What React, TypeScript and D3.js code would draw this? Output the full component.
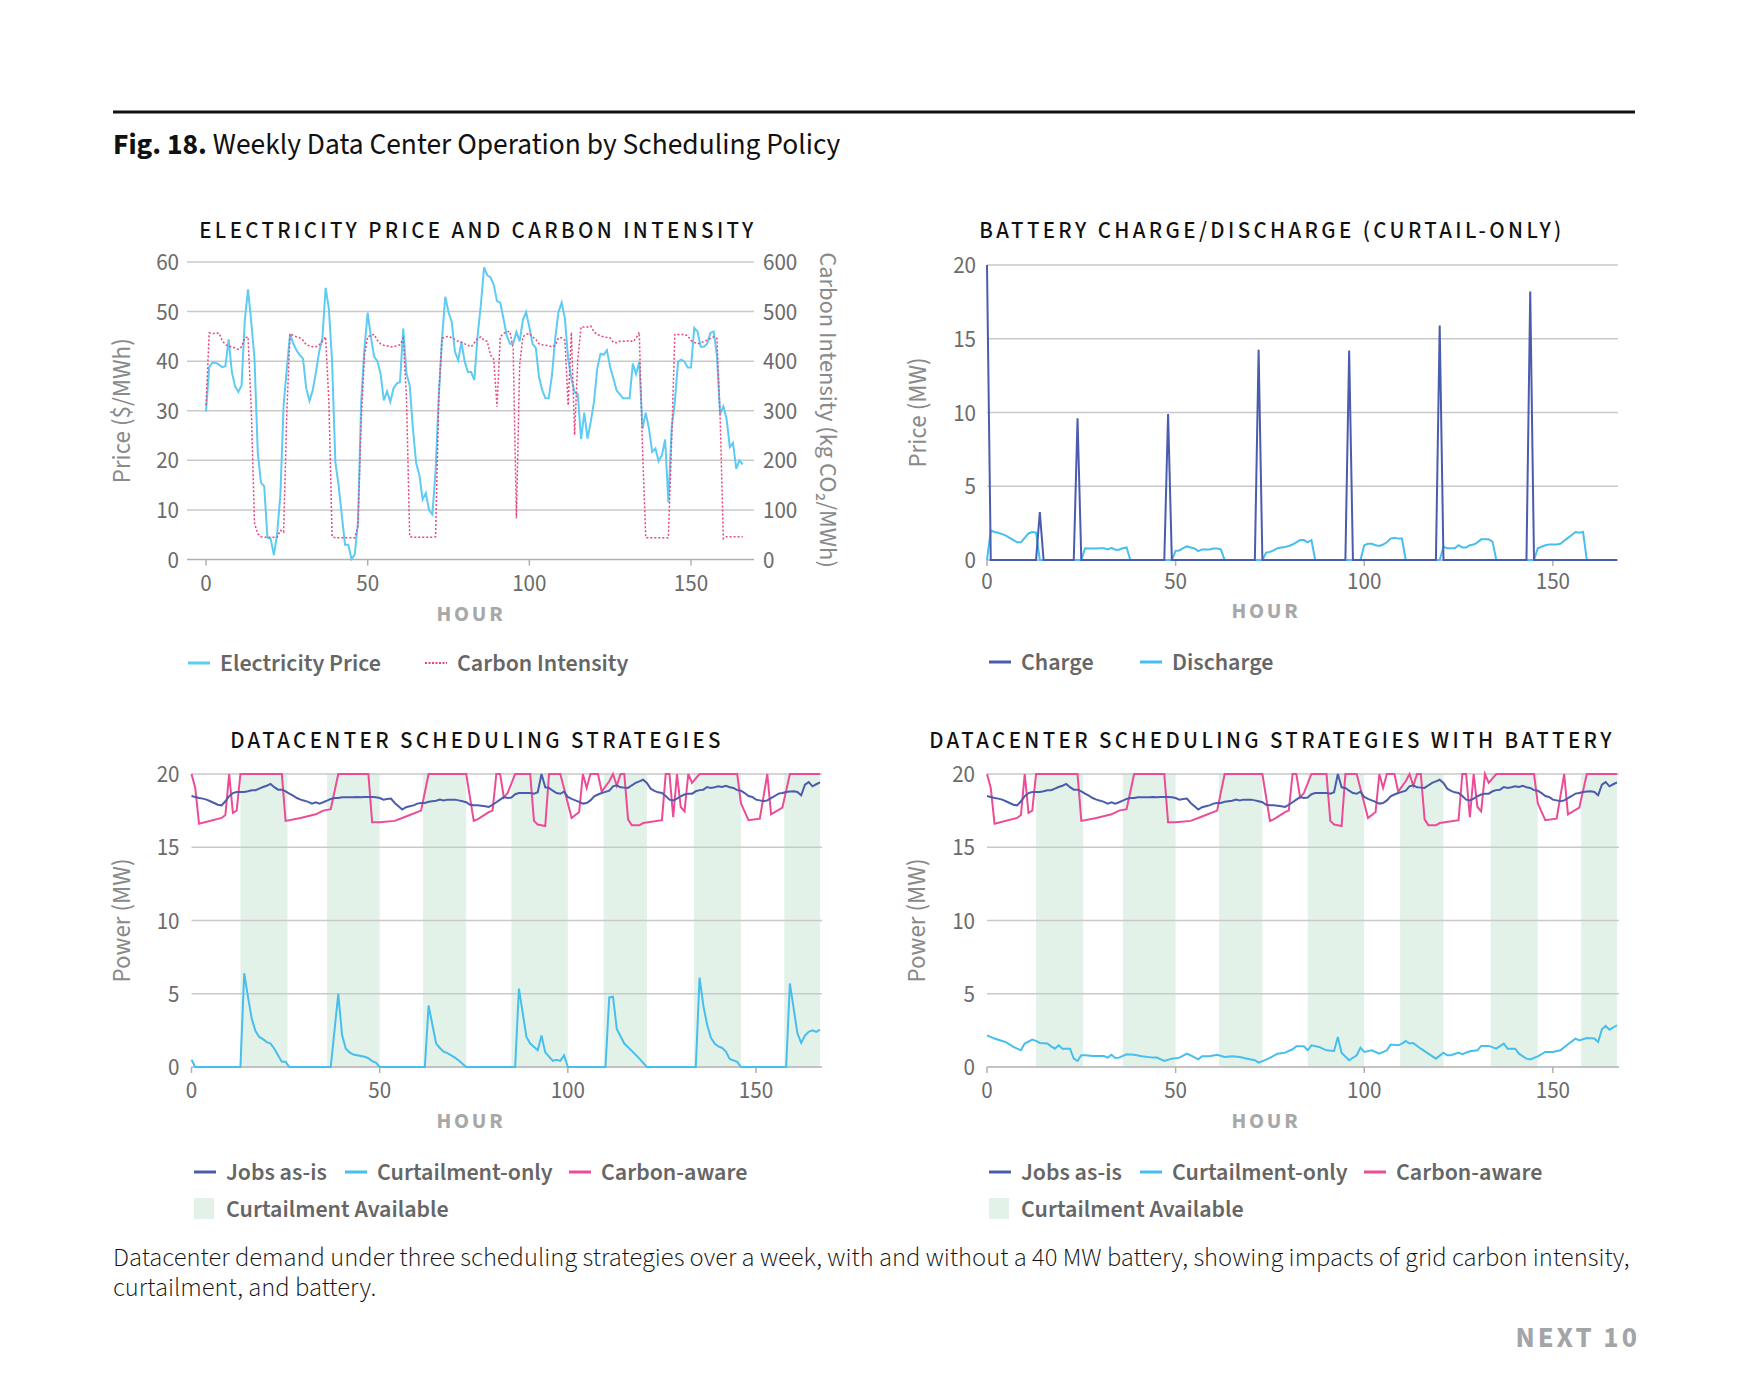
import * as d3 from "d3";

// ---- data ----
// hourly electricity price ($/MWh), hours 0..166
const price = [
  29.8, 38.8, 39.7, 39.7, 39.3, 38.8, 39.0, 44.4, 37.8, 34.9, 33.8, 35.1, 48.3, 54.5, 47.9, 40.5, 21.7, 15.5, 14.8, 4.4,
  4.2, 0.9, 5.2, 13.0, 31.1, 38.5, 45.5, 43.5, 42.2, 41.2, 40.5, 34.5, 32.0, 34.1, 37.8, 41.9, 44.6, 54.8, 50.6, 39.9,
  19.7, 15.0, 8.9, 3.0, 3.0, 0.1, 1.0, 7.6, 31.8, 42.5, 49.8, 44.9, 40.9, 40.0, 37.5, 32.1, 33.9, 31.8, 34.5, 35.5,
  35.8, 46.6, 37.5, 35.1, 26.4, 19.4, 17.0, 12.1, 13.4, 9.9, 9.1, 17.7, 33.1, 44.6, 53.0, 49.9, 47.9, 41.9, 40.2, 43.9,
  39.9, 37.8, 37.8, 36.2, 45.2, 51.3, 58.9, 57.3, 56.9, 55.4, 52.1, 51.8, 48.6, 45.2, 43.5, 43.5, 45.9, 44.0, 48.3, 49.9,
  46.9, 43.5, 42.7, 36.8, 34.1, 32.5, 32.5, 37.2, 44.6, 49.9, 51.8, 48.6, 40.5, 36.5, 33.7, 33.3, 24.3, 29.6, 24.4, 27.8,
  31.8, 38.5, 41.5, 41.3, 42.2, 38.8, 36.5, 34.1, 33.3, 32.5, 32.5, 32.5, 39.5, 37.4, 39.9, 26.4, 29.6, 26.4, 21.7, 22.4,
  19.8, 21.0, 24.2, 11.5, 26.4, 31.8, 39.9, 40.3, 39.9, 38.7, 38.7, 46.7, 46.0, 42.9, 42.9, 43.5, 45.7, 46.0, 41.2, 29.3,
  30.9, 28.4, 22.7, 23.5, 18.3, 20.0, 19.2,
];

// hourly grid carbon intensity (kg CO2/MWh), hours 0..166
const carbon = [
  311, 457, 456, 456, 457, 442, 433, 431, 428, 427, 424, 429, 447, 449, 304, 73, 52, 46, 45, 45,
  45, 45, 45, 59, 55, 298, 455, 452, 449, 447, 442, 433, 431, 429, 429, 433, 440, 449, 318, 46,
  44, 44, 44, 44, 44, 44, 44, 66, 278, 412, 449, 452, 454, 442, 435, 432, 431, 429, 429, 431,
  433, 446, 325, 46, 45, 45, 45, 45, 45, 45, 45, 46, 330, 446, 449, 450, 447, 444, 440, 438,
  435, 432, 429, 437, 446, 449, 442, 440, 412, 404, 308, 449, 456, 459, 460, 425, 83, 392, 449, 454,
  456, 449, 444, 435, 433, 432, 431, 429, 432, 447, 447, 442, 311, 458, 251, 405, 469, 469, 469, 471,
  459, 454, 451, 449, 448, 447, 438, 437, 440, 440, 440, 442, 439, 446, 458, 224, 44, 44, 44, 44,
  44, 44, 44, 44, 237, 454, 454, 454, 454, 451, 442, 438, 435, 437, 440, 442, 446, 449, 446, 291,
  42, 46, 46, 46, 46, 46, 46,
];

// battery charge: zero except single-hour spikes
const weekHours = 168;
const chargeHours = [0, 14, 24, 48, 72, 96, 120, 144];
const chargePeaks = [20, 3.25, 9.6, 9.9, 14.25, 14.2, 15.9, 18.2];

// battery discharge [hour, MW]
const discharge: [number, number][] = [
  [0, 0], [1, 2.0], [2, 1.9], [3, 1.85], [4, 1.75], [5, 1.65], [6, 1.5], [7, 1.35], [8, 1.2], [9, 1.2], [10, 1.5], [11, 1.8], [12, 1.9], [13, 1.85], [14, 0],
  [25, 0], [26, 0.8], [27, 0.78], [28, 0.78], [29, 0.78], [30, 0.8], [31, 0.8], [32, 0.72], [33, 0.82], [34, 0.7], [35, 0.7], [36, 0.8], [37, 0.85], [38, 0],
  [49, 0], [50, 0.62], [51, 0.65], [52, 0.8], [53, 0.92], [54, 0.85], [55, 0.78], [56, 0.6], [57, 0.72], [58, 0.72], [59, 0.72], [60, 0.78], [61, 0.78], [62, 0.72], [63, 0],
  [73, 0], [74, 0.5], [75, 0.55], [76, 0.65], [77, 0.8], [78, 0.85], [79, 0.88], [80, 0.95], [81, 1.05], [82, 1.2], [83, 1.35], [84, 1.35], [85, 1.2], [86, 1.35], [87, 0],
  [99, 0], [100, 1.0], [101, 1.1], [102, 1.1], [103, 1.0], [104, 0.95], [105, 1.05], [106, 1.2], [107, 1.45], [108, 1.5], [109, 1.45], [110, 1.45], [111, 0],
  [120, 0], [121, 0.9], [122, 0.8], [123, 0.8], [124, 0.8], [125, 1.0], [126, 0.85], [127, 0.85], [128, 1.0], [129, 1.05], [130, 1.2], [131, 1.4], [132, 1.4], [133, 1.4], [134, 1.25], [135, 0],
  [145, 0], [146, 0.8], [147, 0.9], [148, 1.0], [149, 1.05], [150, 1.05], [151, 1.05], [152, 1.1], [153, 1.3], [154, 1.5], [155, 1.7], [156, 1.9], [157, 1.85], [158, 1.9], [159, 0], [167, 0],
];

// datacenter power, jobs as-is (MW), hours 0..167
const jobsAsIs = [
  18.5, 18.43, 18.36, 18.32, 18.25, 18.14, 18.02, 17.9, 17.86, 18.14, 18.48, 18.7, 18.77, 18.77, 18.77, 18.82, 18.89, 18.89, 19.0, 19.11,
  19.2, 19.32, 19.1, 18.93, 18.93, 18.82, 18.66, 18.52, 18.36, 18.25, 18.18, 18.1, 17.98, 18.07, 17.98, 18.07, 18.18, 18.3, 18.36, 18.36,
  18.41, 18.41, 18.41, 18.41, 18.43, 18.41, 18.43, 18.43, 18.43, 18.41, 18.36, 18.25, 18.3, 18.32, 18.02, 17.8, 17.57, 17.73, 17.8, 17.86,
  17.98, 18.02, 18.02, 18.1, 18.14, 18.18, 18.25, 18.2, 18.25, 18.25, 18.25, 18.2, 18.14, 18.07, 17.9, 17.86, 17.86, 17.84, 17.8, 17.75,
  17.9, 18.07, 18.25, 18.43, 18.36, 18.4, 18.62, 18.7, 18.7, 18.7, 18.7, 18.66, 18.75, 20.0, 19.09, 19.05, 18.86, 18.7, 18.65, 18.8,
  18.43, 18.3, 18.2, 18.1, 17.98, 18.02, 18.2, 18.48, 18.6, 18.7, 18.78, 18.86, 19.16, 19.23, 19.09, 19.07, 19.05, 19.23, 19.39, 19.5,
  19.61, 19.39, 19.0, 18.85, 18.75, 18.7, 18.5, 18.25, 18.2, 18.32, 18.48, 18.6, 18.66, 18.66, 18.82, 18.9, 18.93, 19.11, 19.05, 19.1,
  19.16, 19.11, 19.2, 19.1, 19.05, 18.9, 18.86, 18.7, 18.5, 18.43, 18.25, 18.2, 18.14, 18.2, 18.35, 18.5, 18.66, 18.7, 18.77, 18.8,
  18.82, 18.77, 18.55, 19.27, 19.45, 19.16, 19.3, 19.43,
];

// carbon-aware scheduling [hour, MW]
const carbonAware: [number, number][] = [
  [0, 20], [1, 19.05], [2, 16.6], [8, 17.0], [9, 17.2], [10, 20], [11, 17.35], [12, 17.5], [13, 20], [24, 20], [25, 16.8],
  [29, 17.0], [33, 17.25], [35, 17.5], [37, 17.6], [39, 20], [47, 20], [48, 16.7], [50, 16.7], [54, 16.8], [57, 17.1],
  [61, 17.5], [63, 20], [73, 20], [75, 16.8], [76, 16.9], [79, 17.4], [80, 17.5], [81, 20], [82, 20], [83, 18.4], [84, 18.7],
  [86, 20], [90, 20], [91, 16.8], [92, 16.55], [94, 16.45], [95, 20], [98, 20], [101, 17.0], [103, 17.4], [104, 20],
  [105, 19.05], [106, 20], [108, 20], [109, 18.8], [111, 19.5], [112, 20], [113, 19.2], [114, 20], [115, 20], [116, 16.9],
  [117, 16.5], [119, 16.5], [120, 16.65], [125, 16.85], [126, 20], [127, 20], [128, 17.05], [129, 20], [130, 17.75],
  [131, 17.45], [132, 20], [133, 19.4], [134, 19.7], [135, 20], [145, 20], [146, 18.0], [148, 16.85], [151, 16.95],
  [153, 20], [154, 17.25], [157, 17.7], [159, 20], [167, 20],
];

// curtailment-only, no battery [hour, MW]
const curtailOnly: [number, number][] = [
  [0, 0.5], [1, 0], [13, 0], [14, 6.4], [15, 4.8], [16, 3.3], [17, 2.45], [18, 2.05], [19, 1.9], [20, 1.7], [21, 1.6], [22, 1.25], [23, 0.8], [24, 0.35], [25, 0.35], [26, 0],
  [37, 0], [39, 5.0], [40, 2.2], [41, 1.25], [42, 1.0], [43, 0.85], [44, 0.8], [45, 0.75], [46, 0.7], [47, 0.6], [48, 0.4], [49, 0.3], [50, 0],
  [62, 0], [63, 4.2], [65, 1.6], [66, 1.3], [67, 1.05], [68, 0.95], [70, 0.64], [71, 0.45], [73, 0],
  [86, 0], [87, 5.35], [89, 2.05], [90, 1.6], [92, 1.15], [93, 2.15], [94, 1.0], [96, 0.42], [97, 0.5], [98, 0.42], [99, 0.8], [100, 0],
  [110, 0], [111, 4.75], [112, 4.8], [113, 2.6], [114, 2.1], [115, 1.6], [117, 1.1], [119, 0.57], [121, 0],
  [134, 0], [135, 6.1], [136, 4.2], [137, 2.9], [138, 2.0], [139, 1.6], [140, 1.4], [141, 1.3], [142, 1.05], [143, 0.55], [145, 0.35], [146, 0],
  [158, 0], [159, 5.7], [160, 4.0], [161, 2.3], [162, 1.65], [163, 2.15], [164, 2.4], [165, 2.5], [166, 2.4], [167, 2.55],
];

// curtailment-only, with 40 MW battery [hour, MW]
const curtailBattery: [number, number][] = [
  [0, 2.16], [2, 1.94], [4, 1.78], [5, 1.7], [7, 1.37], [9, 1.14], [10, 1.6], [12, 1.87], [13, 1.78], [14, 1.64], [16, 1.6], [17, 1.41],
  [18, 1.25], [19, 1.48], [20, 1.25], [22, 1.25], [23, 0.57], [24, 0.41], [25, 0.8], [26, 0.8], [28, 0.75], [31, 0.75], [32, 0.64],
  [33, 0.84], [34, 0.62], [35, 0.64], [37, 0.87], [39, 0.84], [41, 0.73], [44, 0.64], [45, 0.64], [47, 0.41], [49, 0.57], [51, 0.64],
  [53, 0.91], [54, 0.8], [56, 0.52], [57, 0.73], [59, 0.73], [61, 0.84], [63, 0.68], [65, 0.73], [67, 0.68], [69, 0.57], [71, 0.46],
  [72, 0.3], [74, 0.5], [75, 0.62], [77, 0.91], [79, 0.98], [81, 1.21], [82, 1.41], [84, 1.41], [85, 1.14], [86, 1.48], [88, 1.37],
  [90, 1.14], [92, 1.09], [93, 2.05], [94, 0.96], [96, 0.46], [98, 0.8], [99, 1.32], [100, 1.03], [102, 1.14], [104, 0.91],
  [106, 1.14], [107, 1.53], [109, 1.48], [110, 1.6], [111, 1.78], [112, 1.6], [113, 1.64], [115, 1.25], [117, 0.91], [119, 0.57],
  [121, 0.98], [122, 0.8], [123, 0.8], [125, 0.98], [126, 0.87], [128, 1.07], [130, 1.14], [131, 1.44], [133, 1.44], [135, 1.25],
  [137, 1.6], [138, 1.25], [140, 1.25], [141, 0.91], [143, 0.57], [144, 0.52], [146, 0.73], [148, 1.03], [150, 1.03], [152, 1.14],
  [154, 1.55], [156, 1.94], [157, 1.82], [159, 1.98], [161, 1.94], [162, 1.71], [163, 2.57], [164, 2.8], [165, 2.55], [167, 2.85],
];

// hours where curtailment is available
const curtailStart = [13, 36, 61.5, 85, 109.5, 133.5, 157.5];
const curtailEnd = [25.5, 50, 73, 100, 121, 146, 167];

const hourTicks = [0, 50, 100, 150];
const priceTicks = [0, 10, 20, 30, 40, 50, 60];
const carbonTicks = [0, 100, 200, 300, 400, 500, 600];
const powerTicks = [0, 5, 10, 15, 20];

const FONT = "'Source Sans Pro','Source Sans 3',Lato,'Noto Sans',sans-serif";
const C = {
  price: "#5ecbf2",
  carbon: "#e8457f",
  charge: "#4b5cad",
  discharge: "#46bfee",
  jobs: "#4b5cad",
  curtail: "#46bfee",
  aware: "#ec4c95",
  band: "#e3f2e9",
  grid: "#c9c9c9",
  axis: "#b0b0b0",
  tick: "#6b6b6b",
  title: "#8a8a8a",
};

type Scale = d3.ScaleLinear<number, number>;

function Axes({ x, y, yTicks, gridX, labelX, yTitle, yTitleX, hourX, tickY, hourY }: {
  x: Scale; y: Scale; yTicks: number[]; gridX: [number, number]; labelX: number;
  yTitle: string; yTitleX: number; hourX: number; tickY: number; hourY: number;
}) {
  const yMid = (y.range()[0] + y.range()[1]) / 2;
  return (
    <g fontFamily={FONT}>
      {yTicks.map(t => (
        <g key={t}>
          <line x1={gridX[0]} x2={gridX[1]} y1={y(t)} y2={y(t)} stroke={t === 0 ? C.axis : C.grid} strokeWidth={1.5} />
          <text x={labelX} y={y(t) + 8} textAnchor="end" fontSize={23} fill={C.tick}>{t}</text>
        </g>
      ))}
      {hourTicks.map(t => (
        <g key={t}>
          <line x1={x(t)} x2={x(t)} y1={y(0)} y2={y(0) + 6} stroke={C.axis} strokeWidth={1.5} />
          <text x={x(t)} y={tickY} textAnchor="middle" fontSize={23} fill={C.tick}>{t}</text>
        </g>
      ))}
      <text x={hourX} y={hourY} textAnchor="middle" fontSize={22} fontWeight={700} letterSpacing={2.8} fill="#a8a8a8">HOUR</text>
      <text transform={`translate(${yTitleX},${yMid}) rotate(-90)`} textAnchor="middle" dy={8} fontSize={25} fill={C.title}>{yTitle}</text>
    </g>
  );
}

function LegendLine({ x, y, color, label, dotted = false }: { x: number; y: number; color: string; label: string; dotted?: boolean }) {
  return (
    <g>
      <line x1={x} x2={x + 22} y1={y} y2={y} stroke={color} strokeWidth={dotted ? 2 : 3} strokeDasharray={dotted ? "2,1.5" : undefined} />
      <text x={x + 32} y={y + 8} fontFamily={FONT} fontSize={24} fontWeight={600} fill="#666">{label}</text>
    </g>
  );
}

function PanelTitle({ x, y, text }: { x: number; y: number; text: string }) {
  return <text x={x} y={y} textAnchor="middle" fontFamily={FONT} fontSize={23} fontWeight={500} letterSpacing={3.4} fill="#111">{text}</text>;
}

export default function App() {
  // panel 1: price & carbon
  const x1 = d3.scaleLinear().domain([0, 150]).range([206, 691]);
  const yP = d3.scaleLinear().domain([0, 60]).range([559.5, 262]);
  const yC = d3.scaleLinear().domain([0, 600]).range([559.5, 262]);
  const priceLine = d3.line<number>().x((_, i) => x1(i)).y(d => yP(d));
  const carbonLine = d3.line<number>().x((_, i) => x1(i)).y(d => yC(d));

  // panel 2: battery
  const x2 = d3.scaleLinear().domain([0, 167]).range([987, 1617]);
  const y2 = d3.scaleLinear().domain([0, 20]).range([560, 265]);
  const charge = d3.range(weekHours).map(h => {
    const k = chargeHours.indexOf(h);
    return k >= 0 ? chargePeaks[k] : 0;
  });
  const chargeLine = d3.line<number>().x((_, i) => x2(i)).y(d => y2(d));
  const pairLine2 = d3.line<[number, number]>().x(d => x2(d[0])).y(d => y2(d[1]));

  // panels 3 & 4: scheduling strategies
  const x3 = d3.scaleLinear().domain([0, 167]).range([191.5, 820]);
  const x4 = d3.scaleLinear().domain([0, 167]).range([987, 1617]);
  const y3 = d3.scaleLinear().domain([0, 20]).range([1067, 774]);

  const strategies = (x: Scale, curtail: [number, number][], hourX: number, key: string) => {
    const jobsLine = d3.line<number>().x((_, i) => x(i)).y(d => y3(d));
    const pair = d3.line<[number, number]>().x(d => x(d[0])).y(d => y3(d[1]));
    return (
      <g key={key}>
        {curtailStart.map((s, i) => (
          <rect key={i} x={x(s)} y={y3(20)} width={x(curtailEnd[i]) - x(s)} height={y3(0) - y3(20)} fill={C.band} />
        ))}
        <Axes x={x} y={y3} yTicks={powerTicks} gridX={[x(0), x(167) + 2]} labelX={x(0) - 12}
          yTitle="Power (MW)" yTitleX={x(0) - 70} hourX={hourX} tickY={1098} hourY={1128} />
        <path d={pair(curtail) ?? ""} fill="none" stroke={C.curtail} strokeWidth={2} />
        <path d={pair(carbonAware) ?? ""} fill="none" stroke={C.aware} strokeWidth={2} />
        <path d={jobsLine(jobsAsIs) ?? ""} fill="none" stroke={C.jobs} strokeWidth={2} />
      </g>
    );
  };

  const stratLegend = (x0: number, key: string) => (
    <g key={key}>
      <LegendLine x={x0} y={1172} color={C.jobs} label="Jobs as-is" />
      <LegendLine x={x0 + 151} y={1172} color={C.curtail} label="Curtailment-only" />
      <LegendLine x={x0 + 375} y={1172} color={C.aware} label="Carbon-aware" />
      <rect x={x0} y={1198} width={20} height={21} fill={C.band} />
      <text x={x0 + 32} y={1217} fontFamily={FONT} fontSize={24} fontWeight={600} fill="#666">Curtailment Available</text>
    </g>
  );

  return (
    <div style={{ position: "absolute", left: 0, top: 0 }}>
      <svg width={1746} height={1397} viewBox="0 0 1746 1397" style={{ display: "block", background: "#fff" }}>
        <line x1={113} x2={1635} y1={112} y2={112} stroke="#111" strokeWidth={3} />
        <text x={113} y={154} fontFamily={FONT} fontSize={29.45} fill="#111">
          <tspan fontWeight={700}>Fig. 18.</tspan> Weekly Data Center Operation by Scheduling Policy
        </text>

        {/* panel 1 */}
        <PanelTitle x={478} y={238} text="ELECTRICITY PRICE AND CARBON INTENSITY" />
        <Axes x={x1} y={yP} yTicks={priceTicks} gridX={[187, 754]} labelX={179}
          yTitle="Price ($/MWh)" yTitleX={122} hourX={471} tickY={591} hourY={621} />
        {carbonTicks.map(t => (
          <text key={t} x={763} y={yC(t) + 8} fontFamily={FONT} fontSize={23} fill={C.tick}>{t}</text>
        ))}
        <text transform={`translate(828,410) rotate(90)`} textAnchor="middle" dy={8} fontFamily={FONT} fontSize={24.5} fill={C.title}>
          Carbon Intensity (kg CO₂/MWh)
        </text>
        <path d={priceLine(price) ?? ""} fill="none" stroke={C.price} strokeWidth={2} />
        <path d={carbonLine(carbon) ?? ""} fill="none" stroke={C.carbon} strokeWidth={1.5} strokeDasharray="2,2" />
        <LegendLine x={188} y={663} color={C.price} label="Electricity Price" />
        <LegendLine x={425} y={663} color={C.carbon} label="Carbon Intensity" dotted />

        {/* panel 2 */}
        <PanelTitle x={1272} y={238} text="BATTERY CHARGE/DISCHARGE (CURTAIL-ONLY)" />
        <Axes x={x2} y={y2} yTicks={powerTicks} gridX={[987, 1618]} labelX={976}
          yTitle="Price (MW)" yTitleX={918} hourX={1266} tickY={589} hourY={618} />
        <path d={pairLine2(discharge) ?? ""} fill="none" stroke={C.discharge} strokeWidth={2} />
        <path d={chargeLine(charge) ?? ""} fill="none" stroke={C.charge} strokeWidth={2} />
        <LegendLine x={989} y={662} color={C.charge} label="Charge" />
        <LegendLine x={1140} y={662} color={C.discharge} label="Discharge" />

        {/* panels 3 & 4 */}
        <PanelTitle x={477} y={748} text="DATACENTER SCHEDULING STRATEGIES" />
        <PanelTitle x={1272} y={748} text="DATACENTER SCHEDULING STRATEGIES WITH BATTERY" />
        {strategies(x3, curtailOnly, 471, "p3")}
        {strategies(x4, curtailBattery, 1266, "p4")}
        {stratLegend(194, "l3")}
        {stratLegend(989, "l4")}

        <text fontFamily={FONT} fontSize={26.45} fontWeight={300} fill="#111">
          <tspan x={113} y={1266}>Datacenter demand under three scheduling strategies over a week, with and without a 40 MW battery, showing impacts of grid carbon intensity,</tspan>
          <tspan x={113} y={1296}>curtailment, and battery.</tspan>
        </text>
        <text x={1640} y={1347} textAnchor="end" fontFamily={FONT} fontSize={29} fontWeight={700} letterSpacing={3} fill="#a3a5a8">NEXT 10</text>
      </svg>
    </div>
  );
}
